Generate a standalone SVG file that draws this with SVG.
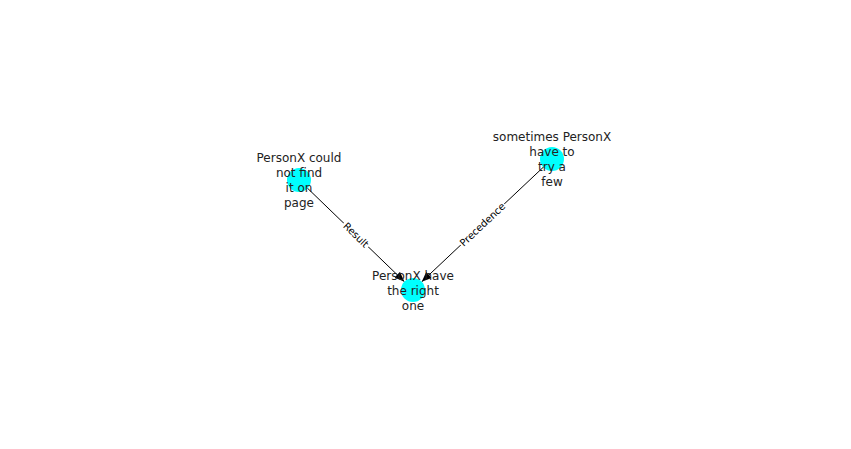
<svg xmlns="http://www.w3.org/2000/svg" width="851" height="449" viewBox="0 0 851 449">
<style>
.node{fill:#00ffff}
.lbl{font-family:"DejaVu Sans",sans-serif;font-size:12px;fill:#222;text-anchor:middle}
.edge{stroke:#000;stroke-width:1;fill:none}
.elbl{font-family:"DejaVu Sans",sans-serif;font-size:10px;fill:#000;text-anchor:middle;dominant-baseline:central}
</style>
<defs>
<marker id="arr" viewBox="0 0 10 8" refX="10" refY="4" markerWidth="10" markerHeight="8" markerUnits="userSpaceOnUse" orient="auto">
<path d="M0,0 L10,4 L0,8 z" fill="#000"/>
</marker>
</defs>
<rect width="851" height="449" fill="#fff"/>
<g id="edges">
<line class="edge" x1="299" y1="180" x2="404.4" y2="281.7" marker-end="url(#arr)"/>
<line class="edge" x1="552" y1="159" x2="421.7" y2="281.8" marker-end="url(#arr)"/>
<g transform="translate(356,235) rotate(44)">
<rect x="-17" y="-7" width="34" height="14" rx="3" fill="#fff"/>
<text class="elbl" x="0" y="0">Result</text>
</g>
<g transform="translate(482.5,224.5) rotate(-43.3)">
<rect x="-30" y="-7" width="60" height="14" rx="3" fill="#fff"/>
<text class="elbl" x="0" y="0">Precedence</text>
</g>
</g>
<g id="n1">
<circle class="node" cx="299" cy="180" r="12"/>
<text class="lbl" x="299" y="162">PersonX could<tspan x="299" dy="15">not find</tspan><tspan x="299" dy="15">it on</tspan><tspan x="299" dy="15">page</tspan></text>
</g>
<g id="n2">
<circle class="node" cx="552" cy="159" r="12"/>
<text class="lbl" x="552" y="141">sometimes PersonX<tspan x="552" dy="15">have to</tspan><tspan x="552" dy="15">try a</tspan><tspan x="552" dy="15">few</tspan></text>
</g>
<g id="n3">
<circle class="node" cx="413" cy="290" r="12"/>
<text class="lbl" x="413" y="279.5">PersonX have<tspan x="413" dy="15">the right</tspan><tspan x="413" dy="15">one</tspan></text>
</g>
</svg>
